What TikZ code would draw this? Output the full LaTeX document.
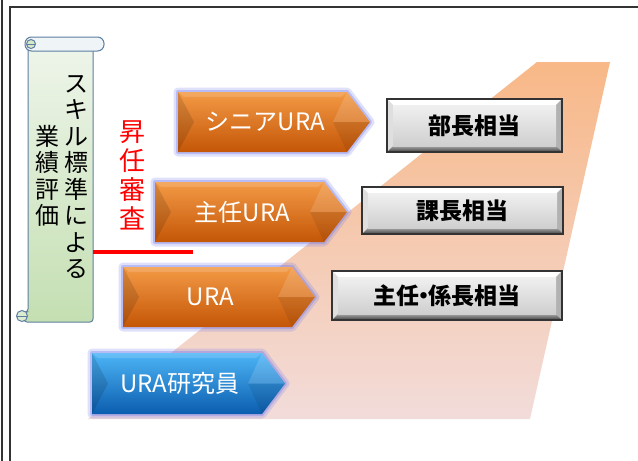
\documentclass[tikz,border=0pt]{standalone}
\usepackage{fontspec}
\newfontfamily\cjk{Noto Sans CJK JP}
\definecolor{framecol}{HTML}{333333}
\definecolor{trapTop}{HTML}{F8B887}
\definecolor{trapMid}{HTML}{F5CDB8}
\definecolor{trapBot}{HTML}{F2DCDA}
\definecolor{scrollTop}{HTML}{EEF5EA}
\definecolor{scrollBot}{HTML}{C4DFB2}
\definecolor{scrollLine}{HTML}{5E7FA2}
\definecolor{rollFill}{HTML}{EFF4F7}
\definecolor{orTop}{HTML}{F39A45}
\definecolor{orMid}{HTML}{E36F14}
\definecolor{orBot}{HTML}{C45608}
\definecolor{blTop}{HTML}{4DB5F6}
\definecolor{blMid}{HTML}{1E8BDB}
\definecolor{blBot}{HTML}{0B5DAE}
\definecolor{glow}{HTML}{6F78F0}
\definecolor{boxFace}{HTML}{E6E6E6}
\definecolor{redtxt}{HTML}{FF0000}
\tikzset{
  arrowtxt/.style={text=white, inner sep=0pt, font=\cjk\fontsize{24}{28}\selectfont},
  boxtxt/.style={text=black, inner sep=0pt, font=\cjk\bfseries\fontsize{23}{27}\selectfont},
  vtxt/.style={align=center, inner sep=0pt, font=\cjk\fontsize{24}{26.5}\selectfont},
  redvtxt/.style={align=center, inner sep=0pt, text=redtxt, font=\cjk\fontsize{26}{29}\selectfont},
  frameline/.style={line width=2pt, draw=framecol},
}
% #1 name #2 x0 #3 y0 #4 tip x #5 y1 #6 top #7 mid #8 bottom #9 text
\newcommand\rankarrow[9]{%
  \pgfmathsetmacro\ym{(#3+#5)/2}%
  \pgfmathsetmacro\xs{#4-23}%
  \pgfmathsetmacro\xt{(#2+\xs)/2+3}%
  \draw[line width=9pt, draw=glow, opacity=0.22, line join=round]
    (#2,#3) -- (\xs,#3) -- (#4,\ym) -- (\xs,#5) -- (#2,#5) -- cycle;
  \draw[line width=4pt, draw=glow, opacity=0.35, line join=round]
    (#2,#3) -- (\xs,#3) -- (#4,\ym) -- (\xs,#5) -- (#2,#5) -- cycle;
  \shade[top color=#6, middle color=#7, bottom color=#8]
    (#2,#3) -- (\xs,#3) -- (#4,\ym) -- (\xs,#5) -- (#2,#5) -- cycle;
  \fill[black, opacity=0.12] (#2,#3) -- ({#2+16},\ym) -- (#2,#5) -- cycle;
  \fill[white, opacity=0.15] (#2,#3) -- (\xs,#3) -- ({\xs-6},{#3+5}) -- ({#2+6},{#3+5}) -- cycle;
  \fill[white, opacity=0.14] (\xs,#3) -- (#4,\ym) -- ({\xs-14},\ym) -- cycle;
  \fill[black, opacity=0.08] ({\xs-14},\ym) -- (#4,\ym) -- (\xs,#5) -- cycle;
  \node[arrowtxt] (#1) at (\xt,\ym) {#9};
}
% #1 name #2 x0 #3 y0 #4 x1 #5 y1 #6 text
\newcommand\rankbox[6]{%
  \fill[white] (#2,#3) -- (#4,#3) -- ({#4-6},{#3+6}) -- ({#2+6},{#3+6}) -- cycle;
  \fill[gray!25] (#2,#3) -- ({#2+6},{#3+6}) -- ({#2+6},{#5-6}) -- (#2,#5) -- cycle;
  \fill[gray!60] (#4,#3) -- (#4,#5) -- ({#4-6},{#5-6}) -- ({#4-6},{#3+6}) -- cycle;
  \shade[top color=gray!70, bottom color=gray!50!black] (#2,#5) -- (#4,#5) -- ({#4-6},{#5-6}) -- ({#2+6},{#5-6}) -- cycle;
  \shade[top color=boxFace!60!white, bottom color=boxFace!90!black] ({#2+6},{#3+6}) rectangle ({#4-6},{#5-6});
  \draw[line width=1.6pt, draw=framecol] (#2,#3) rectangle (#4,#5);
  \node[boxtxt] (#1) at ({(#2+#4)/2},{(#3+#5)/2}) {#6};
}
\begin{document}
\begin{tikzpicture}[x=1pt,y=-1pt]
\useasboundingbox (0,0) rectangle (638,461);
\fill[white] (0,0) rectangle (638,461);
% frame
\draw[frameline] (2,0) -- (2,461);
\draw[frameline] (10,461) -- (10,7) -- (638,7);
% background band
\shade[top color=trapTop, middle color=trapMid, bottom color=trapBot]
  (537,62) -- (610,62) -- (530,419) -- (88,419) -- cycle;
% scroll
\shade[top color=scrollTop, bottom color=scrollBot, draw=scrollLine, line width=1pt, rounded corners=3]
  (28,46) -- (93,46) -- (93,322) -- (24,322) -- (24,312) -- (28,312) -- cycle;
\draw[scrollLine, line width=1pt, fill=rollFill, rounded corners=6.5]
  (25,37) rectangle (104,51);
\draw[scrollLine, line width=1pt, fill=scrollBot!70!white] (31,44) circle (4.5);
\draw[scrollLine, line width=0.8pt] (27,44) -- (35,44);
\draw[scrollLine, line width=1pt, fill=scrollBot!60!white] (22,316) circle (5.5);
\draw[scrollLine, line width=0.8pt] (17,316) -- (27,316);
\node[vtxt] (skill) at (76,177) {ス\\キ\\ル\\標\\準\\に\\よ\\る};
\node[vtxt] (gyoseki) at (47.5,176) {業\\績\\評\\価};
% promotion review
\node[redvtxt] (shonin) at (132,175) {昇\\任\\審\\査};
\coordinate (redL) at (93,252);
\coordinate (redR) at (193,252);
\draw[line width=4.5pt, draw=redtxt] (redL) -- (redR);
% arrows
\rankarrow{senior}{178}{92}{370}{152}{orTop}{orMid}{orBot}{シニアURA}
\rankarrow{shunin}{155}{182}{347}{242}{orTop}{orMid}{orBot}{主任URA}
\rankarrow{ura}{123}{267}{315}{327}{orTop}{orMid}{orBot}{URA}
\rankarrow{kenkyu}{92}{353}{285}{414}{blTop}{blMid}{blBot}{URA研究員}
% equivalent boxes
\rankbox{bucho}{387}{99}{562}{152}{部長相当}
\rankbox{kacho}{362}{187}{563}{234}{課長相当}
\rankbox{kakaricho}{332}{271}{562}{320}{主任\hspace{-0.3em}・\hspace{-0.3em}係長相当}
\end{tikzpicture}
\end{document}
